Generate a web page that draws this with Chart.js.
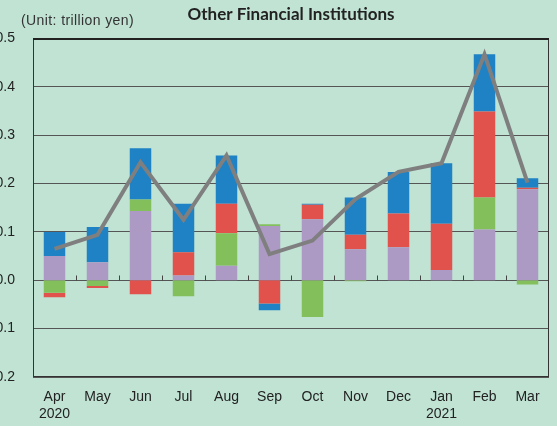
<!DOCTYPE html>
<html>
<head>
<meta charset="utf-8">
<script src="https://cdn.jsdelivr.net/npm/chart.js@4"></script>
<style>
  html, body { margin: 0; padding: 0; }
  body { width: 557px; height: 426px; overflow: hidden; position: relative; background: #c0e3d4; }
  #wrap { position: absolute; left: -14px; top: 0; width: 571px; height: 426px; }
  .unit { position: absolute; left: 21px; top: 12px; font: 14px 'Liberation Sans', Arial, sans-serif; letter-spacing: 0.4px; color: #333; }
</style>
</head>
<body>
<div id="wrap"><canvas id="c" width="571" height="426"></canvas></div>
<div class="unit">(Unit: trillion yen)</div>
<script>
const months = ['Apr', 'May', 'Jun', 'Jul', 'Aug', 'Sep', 'Oct', 'Nov', 'Dec', 'Jan', 'Feb', 'Mar'];
const years = ['2020', '', '', '', '', '', '', '', '', '2021', '', ''];
const purple = [0.050, 0.037, 0.143, 0.010, 0.030, 0.112, 0.126, 0.064, 0.068, 0.021, 0.105, 0.188];
const green  = [-0.026, -0.012, 0.024, -0.033, 0.067, 0.004, -0.076, -0.002, 0, 0, 0.066, -0.009];
const red    = [-0.009, -0.004, -0.029, 0.048, 0.061, -0.048, 0.030, 0.030, 0.070, 0.096, 0.178, 0.003];
const blue   = [0.050, 0.073, 0.106, 0.100, 0.100, -0.014, 0.002, 0.077, 0.086, 0.125, 0.118, 0.020];
const total  = [0.065, 0.094, 0.244, 0.125, 0.258, 0.054, 0.082, 0.168, 0.224, 0.242, 0.467, 0.202];

// frame around plot + little ticks on the zero line
const framePlugin = {
  id: 'frame',
  afterDatasetsDraw(chart) {
    const { ctx, chartArea: a, scales: { x, y } } = chart;
    ctx.save();
    ctx.strokeStyle = '#333';
    ctx.lineWidth = 1;
    ctx.strokeRect(a.left + 0.5, a.top + 0.5, a.right - a.left - 1, a.bottom - a.top - 1);
    ctx.strokeStyle = '#222';
    ctx.lineWidth = 2;
    ctx.beginPath();
    ctx.moveTo(a.left, a.top + 0.5); ctx.lineTo(a.right, a.top + 0.5);
    ctx.stroke();
    const y0 = Math.round(y.getPixelForValue(0)) + 0.5;
    ctx.lineWidth = 1;
    ctx.strokeStyle = '#444';
    ctx.beginPath();
    for (let i = 1; i < months.length; i++) {
      const xb = Math.round((x.getPixelForValue(i - 1) + x.getPixelForValue(i)) / 2) + 0.5;
      ctx.moveTo(xb, y0); ctx.lineTo(xb, y0 - 5);
    }
    ctx.stroke();
    ctx.restore();
  }
};

const barSet = (data, color) => ({
  type: 'bar', data, backgroundColor: color, stack: 'parts', order: 1,
  borderWidth: 0, categoryPercentage: 1, barPercentage: 0.5
});

new Chart(document.getElementById('c'), {
  data: {
    labels: months.map((m, i) => years[i] ? [m, years[i]] : m),
    datasets: [
      { type: 'line', data: total, borderColor: '#7f7f7f', borderWidth: 4, pointRadius: 0, tension: 0, stack: 'total', order: 0 },
      barSet(purple, '#ad9ac4'),
      barSet(green, '#83c05c'),
      barSet(red, '#e0524b'),
      barSet(blue, '#1e82c4')
    ]
  },
  options: {
    responsive: false,
    animation: false,
    layout: { padding: { left: 0, right: 8, top: 0, bottom: 0 } },
    plugins: {
      legend: { display: false },
      tooltip: { enabled: false },
      title: {
        display: true, fullSize: false,
        text: 'Other Financial Institutions',
        color: '#222',
        font: { family: 'Lato', size: 17, weight: 'bold' },
        padding: { top: 4, bottom: 14 }
      }
    },
    scales: {
      x: {
        stacked: true,
        afterFit(s) { s.height = 49; },
        grid: { display: false, drawTicks: false },
        border: { display: false },
        ticks: { color: '#222', padding: 12, font: { family: 'Liberation Sans', size: 14 }, maxRotation: 0, autoSkip: false }
      },
      y: {
        stacked: true,
        min: -0.2, max: 0.5,
        afterFit(s) { s.width = 47; },
        grid: { color: '#555', lineWidth: 1, drawTicks: false },
        border: { display: false },
        ticks: {
          stepSize: 0.1, padding: 18, color: '#222',
          font: { family: 'Liberation Sans', size: 14 },
          callback: v => (Math.abs(v) < 1e-9 ? 0 : v).toFixed(1)
        }
      }
    }
  },
  plugins: [framePlugin]
});
</script>
</body>
</html>
